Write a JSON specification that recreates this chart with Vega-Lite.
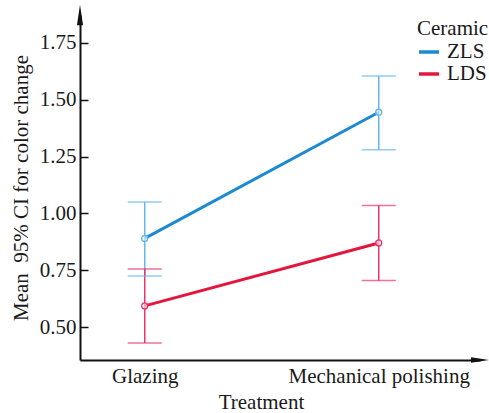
{
  "$schema": "https://vega.github.io/schema/vega-lite/v6.json",
  "autosize": {"type": "none"},
  "padding": {"left": 80, "top": 15, "right": 9, "bottom": 53},
  "width": 400,
  "height": 345,
  "background": "white",
  "config": {
    "view": {"stroke": null},
    "font": "Liberation Serif",
    "axis": {"labelFont": "Liberation Serif", "titleFont": "Liberation Serif", "labelFontSize": 21, "titleFontSize": 21, "labelColor": "#1a1a1a", "titleColor": "#1a1a1a", "titleFontWeight": "normal", "grid": false, "domainColor": "#111", "domainWidth": 2, "tickColor": "#111", "labelLimit": 0},
    "legend": {"labelFont": "Liberation Serif", "titleFont": "Liberation Serif", "labelFontSize": 21, "titleFontSize": 21, "titleFontWeight": "normal", "labelColor": "#1a1a1a", "titleColor": "#1a1a1a"}
  },
  "datasets": {
    "stats": [
      {"Treatment": "Glazing", "Ceramic": "ZLS", "mean": 0.89, "lower": 0.725, "upper": 1.05},
      {"Treatment": "Mechanical polishing", "Ceramic": "ZLS", "mean": 1.445, "lower": 1.28, "upper": 1.605},
      {"Treatment": "Glazing", "Ceramic": "LDS", "mean": 0.593, "lower": 0.43, "upper": 0.755},
      {"Treatment": "Mechanical polishing", "Ceramic": "LDS", "mean": 0.87, "lower": 0.705, "upper": 1.035}
    ],
    "arrows": [
      {"ax": 0, "ay": 1.873, "dir": "up"},
      {"ax": 1, "ay": 0.355, "dir": "right"}
    ]
  },
  "resolve": {"scale": {"x": "independent"}},
  "layer": [
    {
      "data": {"name": "stats"},
      "resolve": {"scale": {"color": "independent"}},
      "encoding": {
        "x": {"field": "Treatment", "type": "nominal", "sort": ["Glazing", "Mechanical polishing"],
          "scale": {"type": "point", "padding": 0.3547, "align": 0.39},
          "axis": {"ticks": false, "labelAngle": 0, "labelPadding": 5, "title": "Treatment", "titleX": 181, "titleAlign": "center", "titleAnchor": null, "titlePadding": 5}}
      },
      "layer": [
        {
          "mark": {"type": "rule", "strokeWidth": 1.5},
          "encoding": {
            "y": {"field": "lower", "type": "quantitative",
              "scale": {"domain": [0.355, 1.873], "nice": false, "zero": false},
              "axis": {"values": [0.5, 0.75, 1.0, 1.25, 1.5, 1.75], "format": ".2f", "tickSize": -8, "tickWidth": 1.5, "labelPadding": 12, "title": "Mean\u00a0 95% CI for color change", "titlePadding": 8}},
            "y2": {"field": "upper"},
            "color": {"field": "Ceramic", "type": "nominal", "scale": {"domain": ["ZLS", "LDS"], "range": ["#62B6EA", "#E8336E"]}, "legend": null}
          }
        },
        {
          "mark": {"type": "tick", "thickness": 1.5, "size": 34},
          "encoding": {
            "y": {"field": "upper", "type": "quantitative"},
            "color": {"field": "Ceramic", "type": "nominal", "scale": {"domain": ["ZLS", "LDS"], "range": ["#62B6EA", "#E8336E"]}, "legend": null}
          }
        },
        {
          "mark": {"type": "tick", "thickness": 1.5, "size": 34},
          "encoding": {
            "y": {"field": "lower", "type": "quantitative"},
            "color": {"field": "Ceramic", "type": "nominal", "scale": {"domain": ["ZLS", "LDS"], "range": ["#62B6EA", "#E8336E"]}, "legend": null}
          }
        },
        {
          "mark": {"type": "line", "strokeWidth": 3},
          "encoding": {
            "y": {"field": "mean", "type": "quantitative"},
            "color": {"field": "Ceramic", "type": "nominal", "scale": {"domain": ["ZLS", "LDS"], "range": ["#1B8ACF", "#E3173E"]},
              "legend": {"title": "Ceramic", "orient": "none", "legendX": 337, "legendY": 3, "symbolType": "stroke", "symbolStrokeWidth": 3.5, "symbolSize": 400, "labelOffset": 6, "rowPadding": -8, "titlePadding": 1}}
          }
        },
        {
          "mark": {"type": "point", "filled": false, "size": 36, "strokeWidth": 1.3, "fill": "white", "fillOpacity": 0.6},
          "encoding": {
            "y": {"field": "mean", "type": "quantitative"},
            "color": {"field": "Ceramic", "type": "nominal", "scale": {"domain": ["ZLS", "LDS"], "range": ["#62B6EA", "#E8336E"]}, "legend": null}
          }
        }
      ]
    },
    {
      "data": {"name": "arrows"},
      "transform": [{"filter": "datum.dir == 'up'"}],
      "mark": {"type": "point", "shape": "M0,-1L0.3,1L-0.3,1Z", "filled": true, "color": "#111", "size": 420, "opacity": 1},
      "encoding": {
        "x": {"field": "ax", "type": "quantitative", "scale": {"domain": [0, 1], "nice": false, "zero": false}, "axis": null},
        "y": {"field": "ay", "type": "quantitative"}
      }
    },
    {
      "data": {"name": "arrows"},
      "transform": [{"filter": "datum.dir == 'right'"}],
      "mark": {"type": "point", "shape": "M1,0L-1,-0.3L-1,0.3Z", "filled": true, "color": "#111", "size": 324, "opacity": 1},
      "encoding": {
        "x": {"field": "ax", "type": "quantitative", "scale": {"domain": [0, 1], "nice": false, "zero": false}, "axis": null},
        "y": {"field": "ay", "type": "quantitative"}
      }
    }
  ]
}
